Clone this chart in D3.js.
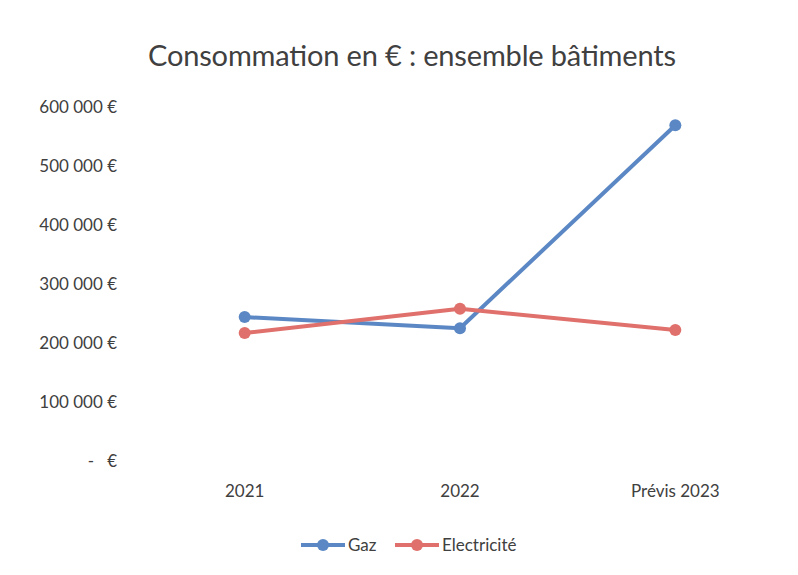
<!DOCTYPE html>
<meta charset="utf-8">
<style>
body { margin: 0; background: #fff; }
svg text { font-family: Lato, "Open Sans", sans-serif; fill: #404040; }
.axis path, .axis line { display: none; }
</style>
<svg width="798" height="575"></svg>
<script src="https://d3js.org/d3.v7.min.js"></script>
<script>
// values
var categories = ["2021", "2022", "Prévis 2023"];
var gaz = [244000, 225000, 569000];
var elec = [217000, 258000, 222000];
var yTicks = [0, 100000, 200000, 300000, 400000, 500000, 600000];
var seriesNames = ["Gaz", "Electricité"];
var colors = ["#5B88C4", "#E0706B"];

var svg = d3.select("svg");

var x = d3.scaleBand().domain(categories).range([137, 783]);
var y = d3.scaleLinear().domain([0, 600000]).range([461, 107]);

svg.append("text")
  .attr("x", 412).attr("y", 66)
  .attr("text-anchor", "middle")
  .style("font-size", "29px")
  .attr("textLength", 528)
  .text("Consommation en € : ensemble bâtiments");

var fmt = function(d) {
  if (d === 0) return "-   €";
  return d3.format(",")(d).replace(/,/g, " ") + " €";
};

var yAxis = svg.append("g")
  .attr("class", "axis")
  .attr("transform", "translate(117,0)")
  .call(d3.axisLeft(y).tickValues(yTicks).tickFormat(fmt).tickSize(0).tickPadding(0));
yAxis.selectAll("text").style("font-size", "17px").style("white-space", "pre").attr("dy", "0.35em");

var xAxis = svg.append("g")
  .attr("class", "axis")
  .attr("transform", "translate(0,461)")
  .call(d3.axisBottom(x).tickSize(0).tickPadding(24));
xAxis.selectAll("text").style("font-size", "17px");

var line = d3.line()
  .x(function(d, i) { return x(categories[i]) + x.bandwidth() / 2; })
  .y(function(d) { return y(d); });

[gaz, elec].forEach(function(s, k) {
  svg.append("path")
    .datum(s)
    .attr("fill", "none")
    .attr("stroke", colors[k])
    .attr("stroke-width", 4)
    .attr("stroke-linejoin", "round")
    .attr("d", line);
  svg.selectAll(".pt" + k)
    .data(s)
    .enter().append("circle")
    .attr("cx", function(d, i) { return x(categories[i]) + x.bandwidth() / 2; })
    .attr("cy", function(d) { return y(d); })
    .attr("r", 6)
    .attr("fill", colors[k]);
});

// legend
var legendX = [301, 395];
var leg = svg.selectAll(".leg")
  .data(seriesNames)
  .enter().append("g")
  .attr("transform", function(d, i) { return "translate(" + legendX[i] + ",545)"; });
leg.append("line")
  .attr("x1", 0).attr("x2", 44)
  .attr("stroke", function(d, i) { return colors[i]; })
  .attr("stroke-width", 4);
leg.append("circle")
  .attr("cx", 22).attr("r", 6)
  .attr("fill", function(d, i) { return colors[i]; });
leg.append("text")
  .attr("x", 47).attr("dy", "0.35em")
  .style("font-size", "17px")
  .text(function(d) { return d; });
</script>
